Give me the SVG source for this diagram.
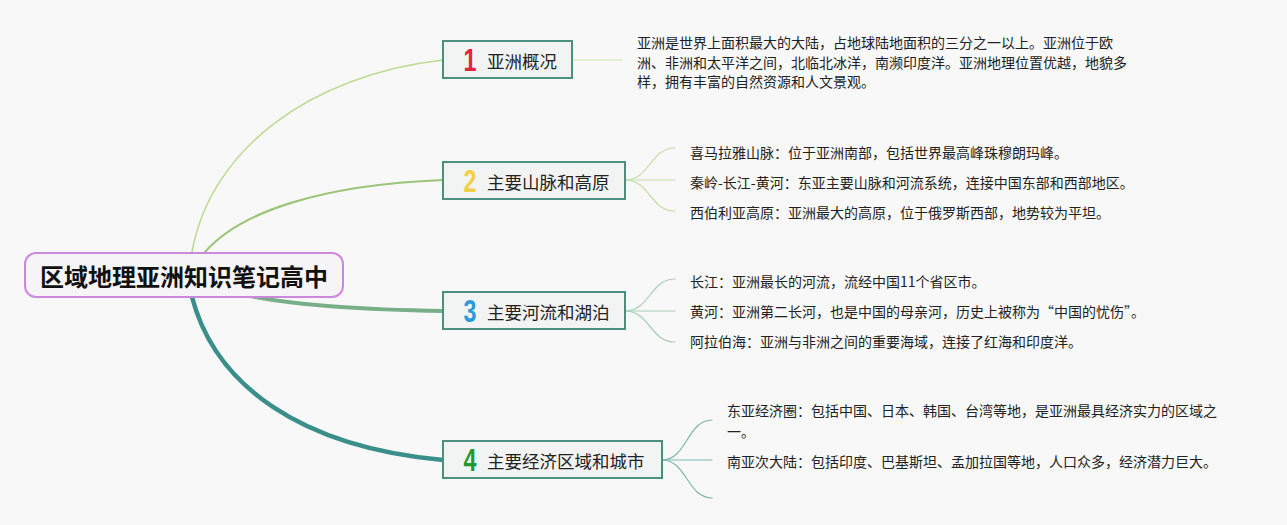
<svg xmlns="http://www.w3.org/2000/svg" width="1287" height="525" viewBox="0 0 1287 525">
<style>
text{font-family:"Noto Sans CJK SC","Noto Sans",sans-serif;}
.bg{fill:#f8f8f8;}
.root rect{fill:#f6f4f7;stroke:#cc88dd;stroke-width:2;}
.root text{font-size:24px;font-weight:bold;fill:#111;}
.topic rect{fill:#f2f3f3;stroke:#4a8f80;stroke-width:2;}
.topic .lbl{font-size:17.5px;fill:#222;}
.num{font-family:"Liberation Sans",Arial,sans-serif;font-size:31px;font-weight:bold;}
.desc{font-size:14px;fill:#222;}
.c{fill:none;stroke-linecap:round;}
</style>
<rect class="bg" x="0" y="0" width="1287" height="525"/>
<g id="connectors">
<path class="c" d="M192,252 C210,150 310,75 443,60" stroke="#bcdc94" stroke-width="1.6"/>
<path class="c" d="M205,252 C240,212 320,185 443,180" stroke="#9cc47a" stroke-width="2.2"/>
<path class="c" d="M250,296 C300,306 380,310 443,311" stroke="#78ae88" stroke-width="4"/>
<path class="c" d="M192,297 C215,385 300,447 443,460" stroke="#3a8f8a" stroke-width="4.5"/>
<path class="c" d="M572,60 L622,60" stroke="#cfe6b4" stroke-width="1.2"/>
<path class="c" d="M625,180 C650,180 650,148 675,148" stroke="#c4dea8" stroke-width="1.2"/>
<path class="c" d="M625,180 L675,180" stroke="#c4dea8" stroke-width="1.2"/>
<path class="c" d="M625,180 C650,180 650,211 675,211" stroke="#c4dea8" stroke-width="1.2"/>
<path class="c" d="M625,311 C650,311 650,279 675,279" stroke="#a9cdb8" stroke-width="1.2"/>
<path class="c" d="M625,311 L675,311" stroke="#a9cdb8" stroke-width="1.2"/>
<path class="c" d="M625,311 C650,311 650,342 675,342" stroke="#a9cdb8" stroke-width="1.2"/>
<path class="c" d="M662,460 C687,460 687,420 712,420" stroke="#7fb5b0" stroke-width="1.2"/>
<path class="c" d="M662,460 L712,460" stroke="#7fb5b0" stroke-width="1.2"/>
<path class="c" d="M662,460 C687,460 687,498 712,498" stroke="#7fb5b0" stroke-width="1.2"/>
</g>
<g id="root" class="root">
<rect x="25" y="253" width="318" height="44" rx="11"/>
<text x="184" y="275" text-anchor="middle" dominant-baseline="central">区域地理亚洲知识笔记高中</text>
</g>
<g id="topic1" class="topic">
<rect x="443" y="41" width="129" height="37"/>
<text class="num" transform="translate(470,60) scale(0.75,1)" text-anchor="middle" dominant-baseline="central" fill="#e0263a">1</text>
<text class="lbl" x="487" y="60" dominant-baseline="central">亚洲概况</text>
</g>
<g id="topic2" class="topic">
<rect x="443" y="162" width="182" height="37"/>
<text class="num" transform="translate(470,181) scale(0.75,1)" text-anchor="middle" dominant-baseline="central" fill="#f2cf45">2</text>
<text class="lbl" x="487" y="181" dominant-baseline="central">主要山脉和高原</text>
</g>
<g id="topic3" class="topic">
<rect x="443" y="292" width="182" height="37"/>
<text class="num" transform="translate(470,311) scale(0.75,1)" text-anchor="middle" dominant-baseline="central" fill="#2a9ad8">3</text>
<text class="lbl" x="487" y="311" dominant-baseline="central">主要河流和湖泊</text>
</g>
<g id="topic4" class="topic">
<rect x="443" y="441" width="219" height="37"/>
<text class="num" transform="translate(470,460) scale(0.75,1)" text-anchor="middle" dominant-baseline="central" fill="#22992e">4</text>
<text class="lbl" x="487" y="460" dominant-baseline="central">主要经济区域和城市</text>
</g>
<g id="desc1">
<text class="desc" x="637" y="42" dominant-baseline="central">亚洲是世界上面积最大的大陆，占地球陆地面积的三分之一以上。亚洲位于欧</text>
<text class="desc" x="637" y="62" dominant-baseline="central">洲、非洲和太平洋之间，北临北冰洋，南濒印度洋。亚洲地理位置优越，地貌多</text>
<text class="desc" x="637" y="81" dominant-baseline="central">样，拥有丰富的自然资源和人文景观。</text>
</g>
<g id="sub2">
<text class="desc" x="690" y="152" dominant-baseline="central">喜马拉雅山脉：位于亚洲南部，包括世界最高峰珠穆朗玛峰。</text>
<text class="desc" x="690" y="182" dominant-baseline="central">秦岭-长江-黄河：东亚主要山脉和河流系统，连接中国东部和西部地区。</text>
<text class="desc" x="690" y="212" dominant-baseline="central">西伯利亚高原：亚洲最大的高原，位于俄罗斯西部，地势较为平坦。</text>
</g>
<g id="sub3">
<text class="desc" x="690" y="281" dominant-baseline="central">长江：亚洲最长的河流，流经中国11个省区市。</text>
<text class="desc" x="690" y="311" dominant-baseline="central">黄河：亚洲第二长河，也是中国的母亲河，历史上被称为“中国的忧伤”。</text>
<text class="desc" x="690" y="341" dominant-baseline="central">阿拉伯海：亚洲与非洲之间的重要海域，连接了红海和印度洋。</text>
</g>
<g id="sub4">
<text class="desc" x="727" y="410" dominant-baseline="central">东亚经济圈：包括中国、日本、韩国、台湾等地，是亚洲最具经济实力的区域之</text>
<text class="desc" x="727" y="431" dominant-baseline="central">一。</text>
<text class="desc" x="727" y="461" dominant-baseline="central">南亚次大陆：包括印度、巴基斯坦、孟加拉国等地，人口众多，经济潜力巨大。</text>
</g>
</svg>
